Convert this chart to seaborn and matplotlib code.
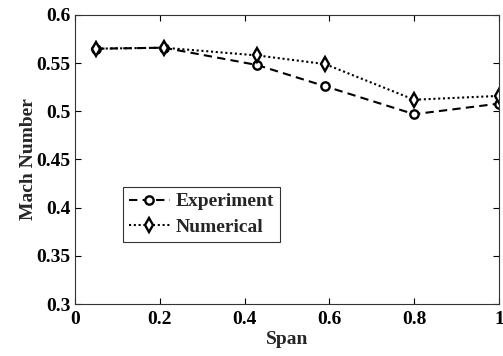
import matplotlib
matplotlib.use("Agg")
import matplotlib.pyplot as plt
import seaborn as sns
import pandas as pd

span = [0.05, 0.21, 0.43, 0.59, 0.80, 1.00]
experiment = [0.565, 0.566, 0.548, 0.526, 0.497, 0.508]
numerical = [0.565, 0.566, 0.558, 0.549, 0.512, 0.516]
series_names = ["Experiment", "Numerical"]

sns.set_style("ticks")
plt.rcParams['font.family'] = ['Liberation Serif', 'DejaVu Serif']
plt.rcParams['font.weight'] = 'bold'

fig = plt.figure(figsize=(5.03, 3.56), dpi=100)
ax = fig.add_axes([0.149, 0.146, 0.843, 0.812])

df_e = pd.DataFrame({"Span": span, "Mach": experiment})
df_n = pd.DataFrame({"Span": span, "Mach": numerical})

sns.lineplot(data=df_e, x="Span", y="Mach", ax=ax, color="black", lw=1.5,
             linestyle=(0, (4, 2.5)), marker="o", markersize=6, markerfacecolor="white",
             markeredgecolor="black", markeredgewidth=1.7, label=series_names[0])
sns.lineplot(data=df_n, x="Span", y="Mach", ax=ax, color="black", lw=1.5,
             linestyle=(0, (1, 1.3)), marker="d", markersize=7.5, markerfacecolor="white",
             markeredgecolor="black", markeredgewidth=1.7, label=series_names[1])

ax.set_xlim(0, 1)
ax.set_ylim(0.3, 0.6)
ax.set_xticks([0, 0.2, 0.4, 0.6, 0.8, 1])
ax.set_xticklabels(["0", "0.2", "0.4", "0.6", "0.8", "1"])
ax.set_yticks([0.3, 0.35, 0.4, 0.45, 0.5, 0.55, 0.6])
ax.set_yticklabels(["0.3", "0.35", "0.4", "0.45", "0.5", "0.55", "0.6"])
ax.tick_params(direction="in", top=True, right=True, length=4, width=0.8,
               labelsize=14, colors="black")
ax.tick_params(axis="x", pad=5)
ax.tick_params(axis="y", pad=3)
for lab in ax.get_xticklabels() + ax.get_yticklabels():
    lab.set_fontweight("bold")
for s in ax.spines.values():
    s.set_visible(True)
    s.set_linewidth(0.8)
    s.set_color("#333333")
ax.set_xlabel("Span", fontsize=14, fontweight="bold", labelpad=2)
ax.set_ylabel("Mach Number", fontsize=14, fontweight="bold", labelpad=0)

leg = ax.legend(loc="upper left", bbox_to_anchor=(0.113, 0.405), frameon=True,
                fancybox=False, edgecolor="black", fontsize=14, handlelength=2.1,
                handletextpad=0.3, borderpad=0.3, labelspacing=0.4,
                borderaxespad=0)
leg.get_frame().set_linewidth(0.8)
for t in leg.get_texts():
    t.set_fontweight("bold")

fig.savefig("out.png", dpi=100)
